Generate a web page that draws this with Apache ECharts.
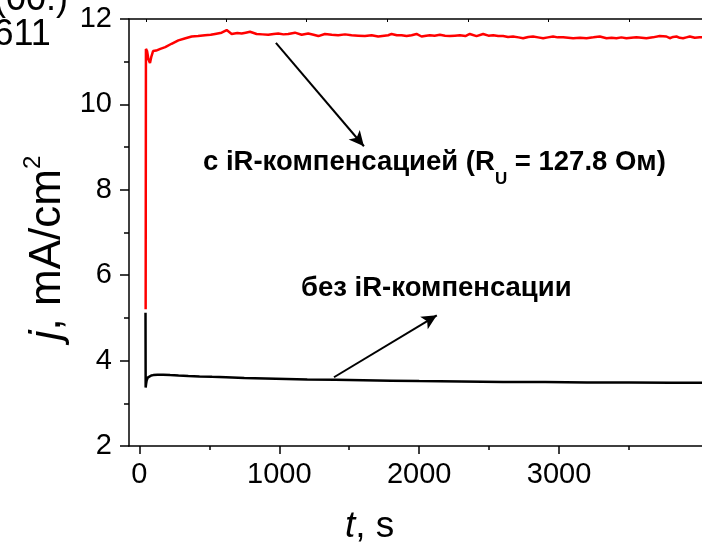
<!DOCTYPE html>
<html>
<head>
<meta charset="utf-8">
<script src="https://cdn.jsdelivr.net/npm/echarts@6.0.0/dist/echarts.min.js"></script>
<style>
  html, body { margin: 0; padding: 0; background: #fff; }
  #chart { width: 702px; height: 545px; }
</style>
</head>
<body>
<div id="chart"></div>
<script>
const FONT = '"Liberation Sans", Arial, Helvetica, sans-serif';

// Current density transient with iR compensation (red)
const compTime = [45, 47, 55, 65, 76, 86, 98, 120, 150, 185, 230, 279, 330, 374, 420, 469, 510, 541, 588, 624, 660, 700, 731, 760, 791, 838, 880, 921, 960, 993, 1030, 1064, 1112, 1160, 1207, 1245, 1279, 1326, 1375, 1421, 1470, 1517, 1565, 1612, 1660, 1707, 1779, 1803, 1840, 1874, 1910, 1946, 1981, 2017, 2050, 2076, 2110, 2148, 2185, 2219, 2255, 2291, 2330, 2362, 2410, 2457, 2495, 2529, 2565, 2600, 2635, 2671, 2710, 2743, 2780, 2814, 2850, 2886, 2920, 2957, 2990, 3029, 3065, 3100, 3150, 3196, 3245, 3291, 3339, 3375, 3410, 3445, 3481, 3515, 3553, 3590, 3624, 3670, 3719, 3767, 3791, 3815, 3839, 3862, 3886, 3910, 3934, 3970, 4005, 4040, 4075, 4100];
const compCurrent = [5.2, 11.3, 11.25, 11.05, 10.97, 11.12, 11.25, 11.26, 11.3, 11.34, 11.42, 11.5, 11.55, 11.59, 11.6, 11.62, 11.63, 11.65, 11.68, 11.74, 11.65, 11.67, 11.66, 11.68, 11.7, 11.65, 11.64, 11.63, 11.65, 11.66, 11.64, 11.65, 11.68, 11.63, 11.66, 11.63, 11.6, 11.65, 11.63, 11.62, 11.64, 11.62, 11.61, 11.6, 11.62, 11.59, 11.62, 11.65, 11.62, 11.62, 11.6, 11.62, 11.65, 11.59, 11.61, 11.62, 11.61, 11.63, 11.61, 11.6, 11.61, 11.62, 11.6, 11.65, 11.6, 11.65, 11.61, 11.62, 11.6, 11.6, 11.58, 11.59, 11.57, 11.55, 11.58, 11.59, 11.57, 11.55, 11.57, 11.59, 11.57, 11.57, 11.56, 11.55, 11.56, 11.55, 11.57, 11.59, 11.55, 11.56, 11.55, 11.57, 11.55, 11.56, 11.57, 11.56, 11.55, 11.57, 11.6, 11.59, 11.55, 11.58, 11.59, 11.56, 11.55, 11.57, 11.59, 11.56, 11.57, 11.58, 11.56, 11.57];

// Current density transient without iR compensation (black)
const rawTime = [44, 45, 48, 52, 60, 70, 85, 100, 130, 170, 220, 280, 350, 430, 520, 620, 750, 900, 1050, 1200, 1400, 1600, 1800, 2000, 2300, 2600, 2900, 3200, 3500, 3800, 4100];
const rawCurrent = [5.12, 3.37, 3.45, 3.53, 3.6, 3.63, 3.65, 3.66, 3.67, 3.67, 3.66, 3.65, 3.64, 3.63, 3.62, 3.61, 3.59, 3.58, 3.57, 3.56, 3.55, 3.54, 3.53, 3.52, 3.51, 3.5, 3.5, 3.49, 3.49, 3.48, 3.48];

// Axes
const xRange = [-74, 4100];
const yRange = [2, 12];
const xMajorTicks = [0, 1000, 2000, 3000];
const xMinorTicks = [500, 1500, 2500, 3500];
const xTopTicks = [46, 624, 1196, 1774, 2348, 2926, 3498, 4075];
const yInterval = 2;

// Annotations (text and arrow end points in data units)
const compLabelParts = ['с iR-компенсацией (R', 'U', ' = 127.8 Ом)'];
const rawLabel = 'без iR-компенсации';
const compArrow = [[976, 11.44], [1605, 9.02]];
const rawArrow = [[1391, 3.61], [2126, 5.06]];
const xTitle = ['t', ', s'];
const yTitle = ['j', ', mA/cm', '2'];
const cornerLines = ['(00.)', '611'];

const zip = (a, b) => a.map((v, i) => [v, b[i]]);

const measure = (() => {
  const ctx = document.createElement('canvas').getContext('2d');
  return (txt, font) => { ctx.font = font; return ctx.measureText(txt).width; };
})();

const labelSize = 27.5;
const subSize = 17;
const compX = 203;
const compBaseline = 172;
const part1W = measure(compLabelParts[0], `bold ${labelSize}px ${FONT}`);
const subW = measure(compLabelParts[1], `bold ${subSize}px ${FONT}`);
const mid = (baseline, size) => baseline - 0.3465 * size;

const axisLineStyle = { color: '#000', width: 1.5 };
const tickFont = 29;
const plain = v => String(v);

const chart = echarts.init(document.getElementById('chart'), null, { renderer: 'canvas' });

chart.setOption({
  animation: false,
  backgroundColor: '#fff',
  grid: { left: 129, top: 19, right: -11, bottom: 99, containLabel: false, outerBoundsMode: 'none' },
  xAxis: [
    {
      type: 'value', min: xRange[0], max: xRange[1], position: 'bottom',
      axisLine: { show: true, onZero: false, lineStyle: axisLineStyle },
      axisTick: { show: true, inside: false, length: 8, customValues: xMajorTicks, lineStyle: axisLineStyle },
      axisLabel: { show: true, customValues: xMajorTicks, formatter: plain, color: '#000', fontSize: tickFont, fontFamily: FONT, margin: 14 },
      splitLine: { show: false }
    },
    {
      type: 'value', min: xRange[0], max: xRange[1], position: 'bottom',
      axisLine: { show: false, onZero: false },
      axisTick: { show: true, inside: false, length: 4, customValues: xMinorTicks, lineStyle: axisLineStyle },
      axisLabel: { show: false },
      splitLine: { show: false }
    },
    {
      type: 'value', min: xRange[0], max: xRange[1], position: 'top',
      axisLine: { show: true, onZero: false, lineStyle: axisLineStyle },
      axisTick: { show: true, inside: true, length: 3, customValues: xTopTicks, lineStyle: { color: '#000', width: 1 } },
      axisLabel: { show: false },
      splitLine: { show: false }
    }
  ],
  yAxis: {
    type: 'value', min: yRange[0], max: yRange[1], interval: yInterval,
    axisLine: { show: true, onZero: false, lineStyle: axisLineStyle },
    axisTick: { show: true, inside: false, length: 9, lineStyle: axisLineStyle },
    minorTick: { show: true, splitNumber: 2, length: 5, lineStyle: axisLineStyle },
    axisLabel: { color: '#000', fontSize: tickFont, fontFamily: FONT, margin: 17, formatter: plain },
    splitLine: { show: false },
    minorSplitLine: { show: false }
  },
  series: [
    {
      type: 'line', xAxisIndex: 0, data: zip(rawTime, rawCurrent),
      showSymbol: false, symbol: 'none', smooth: false, clip: true,
      lineStyle: { color: '#000', width: 2.5 }, itemStyle: { color: '#000' },
      emphasis: { disabled: true }, z: 2,
      markLine: {
        silent: true, animation: false,
        symbol: ['none', 'arrow'], symbolSize: [11, 15],
        lineStyle: { color: '#000', width: 2, type: 'solid' },
        label: { show: false },
        emphasis: { disabled: true },
        data: [
          [{ coord: compArrow[0] }, { coord: compArrow[1] }],
          [{ coord: rawArrow[0] }, { coord: rawArrow[1] }]
        ]
      }
    },
    {
      type: 'line', xAxisIndex: 0, data: zip(compTime, compCurrent),
      showSymbol: false, symbol: 'none', smooth: false, clip: true,
      lineStyle: { color: '#ff0000', width: 2.5 }, itemStyle: { color: '#ff0000' },
      emphasis: { disabled: true }, z: 3
    }
  ],
  graphic: [
    {
      type: 'text', x: compX, y: mid(compBaseline, labelSize), silent: true,
      style: { text: compLabelParts[0], font: `bold ${labelSize}px ${FONT}`, fill: '#000', align: 'left', verticalAlign: 'middle' }
    },
    {
      type: 'text', x: compX + part1W, y: mid(compBaseline + 13, subSize), silent: true,
      style: { text: compLabelParts[1], font: `bold ${subSize}px ${FONT}`, fill: '#000', align: 'left', verticalAlign: 'middle' }
    },
    {
      type: 'text', x: compX + part1W + subW, y: mid(compBaseline, labelSize), silent: true,
      style: { text: compLabelParts[2], font: `bold ${labelSize}px ${FONT}`, fill: '#000', align: 'left', verticalAlign: 'middle' }
    },
    {
      type: 'text', x: 301, y: mid(298, labelSize), silent: true,
      style: { text: rawLabel, font: `bold ${labelSize}px ${FONT}`, fill: '#000', align: 'left', verticalAlign: 'middle' }
    },
    {
      type: 'text', x: 345, y: mid(540, 37), silent: true,
      style: {
        text: `{i|${xTitle[0]}}{n|${xTitle[1]}}`, align: 'left', verticalAlign: 'middle',
        rich: {
          i: { fontFamily: FONT, fontSize: 37, fontStyle: 'italic', fill: '#000', lineHeight: 40 },
          n: { fontFamily: FONT, fontSize: 37, fill: '#000', lineHeight: 40 }
        }
      }
    },
    {
      type: 'text', x: 48, y: 248, rotation: Math.PI / 2, silent: true,
      style: {
        text: `{i|${yTitle[0]}}{n|${yTitle[1]}}{s|${yTitle[2]}}`, align: 'center', verticalAlign: 'middle',
        rich: {
          i: { fontFamily: FONT, fontSize: 44, fontStyle: 'italic', fill: '#000', lineHeight: 54 },
          n: { fontFamily: FONT, fontSize: 44, fill: '#000', lineHeight: 54 },
          s: { fontFamily: FONT, fontSize: 24, fill: '#000', lineHeight: 24, verticalAlign: 'top' }
        }
      }
    },
    {
      type: 'text', x: -6, y: mid(13, 36), silent: true,
      style: { text: cornerLines[0], font: `36px ${FONT}`, fill: '#000', align: 'left', verticalAlign: 'middle' }
    },
    {
      type: 'text', x: -6.5, y: mid(48, 36), silent: true,
      style: { text: cornerLines[1], font: `36px ${FONT}`, fill: '#000', align: 'left', verticalAlign: 'middle' }
    }
  ]
});
</script>
</body>
</html>
